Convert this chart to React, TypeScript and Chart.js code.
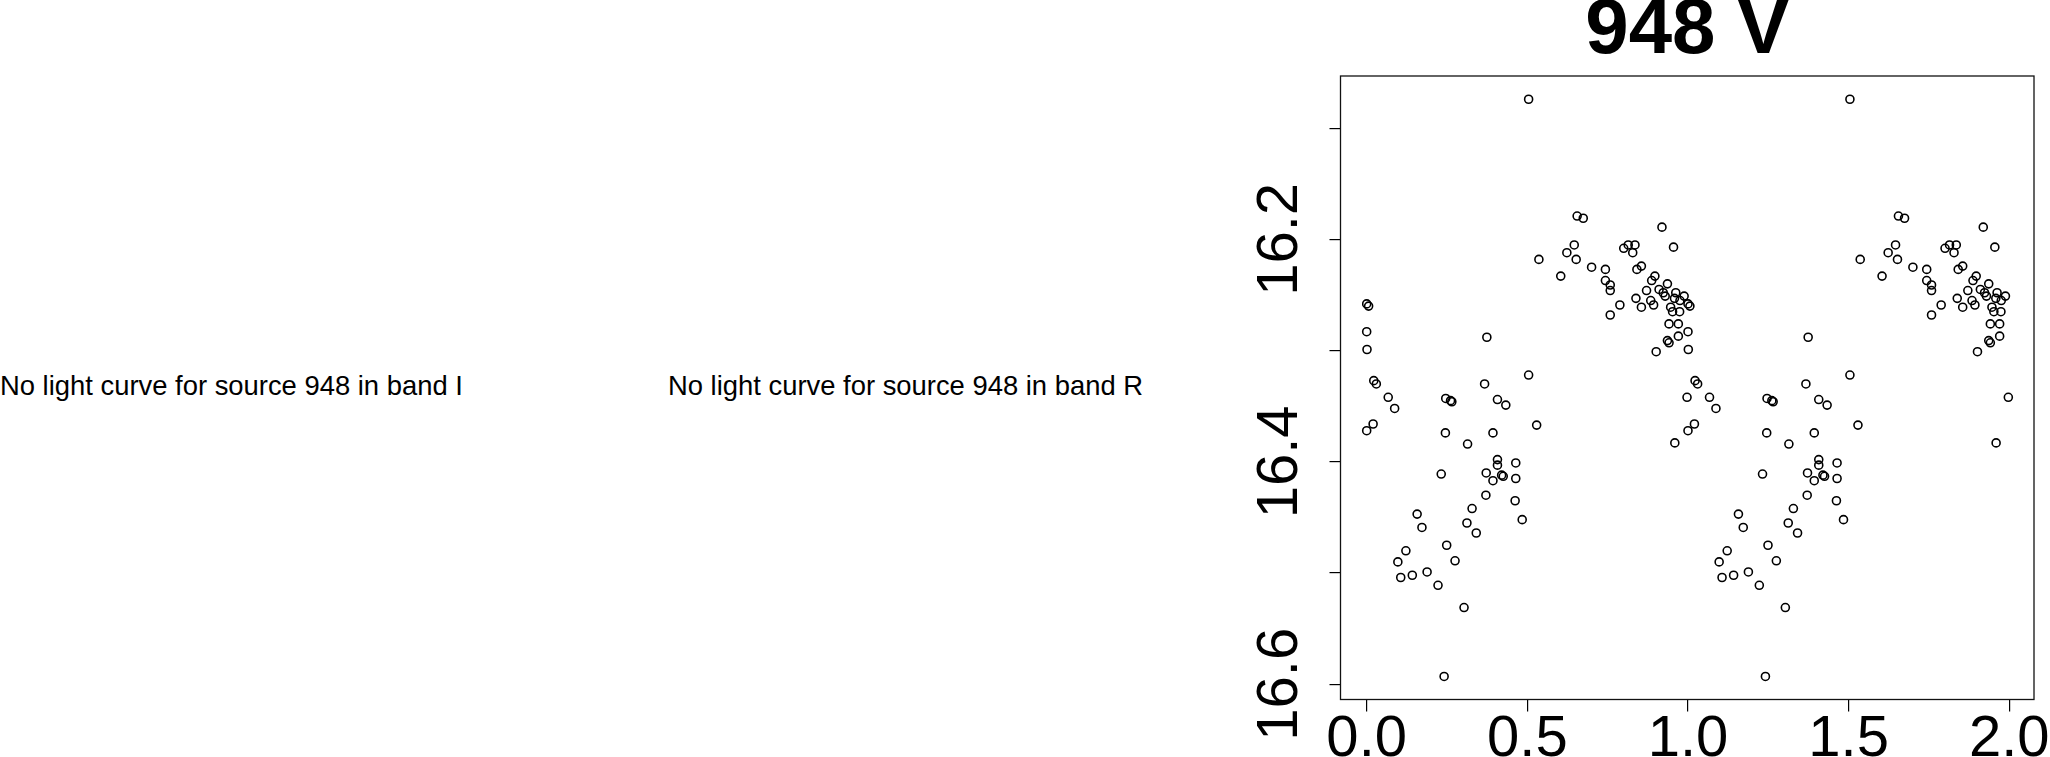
import React, { useEffect, useRef } from 'react';
import { Chart, registerables } from 'chart.js';

Chart.register(...registerables);

// ---- data ----
const chartTitle = '948 V';
const sourceId = '948';
const missingBands = ['I', 'R'];

// phase (0..1) and V magnitude
const phases = [
  0.000, 0.006, 0.000, 0.001, 0.022, 0.030, 0.067, 0.087, 0.000, 0.020,
  0.246, 0.261, 0.265, 0.245, 0.314, 0.232, 0.157, 0.172, 0.122, 0.097,
  0.106, 0.142, 0.188, 0.222, 0.249, 0.275, 0.303, 0.241, 0.312, 0.328,
  0.341, 0.371, 0.372, 0.393, 0.393, 0.374, 0.367, 0.407, 0.433, 0.407,
  0.407, 0.420, 0.425, 0.464, 0.464, 0.462, 0.484, 0.504, 0.504, 0.529,
  0.536, 0.604, 0.623, 0.646, 0.652, 0.655, 0.674, 0.700, 0.743, 0.743,
  0.758, 0.758, 0.758, 0.788, 0.800, 0.814, 0.828, 0.835, 0.841, 0.855,
  0.838, 0.855, 0.871, 0.884, 0.887, 0.897, 0.893, 0.901, 0.910, 0.919,
  0.923, 0.929, 0.936, 0.941, 0.936, 0.941, 0.946, 0.952, 0.955, 0.958,
  0.962, 0.970, 0.970, 0.975, 0.974, 0.959, 0.988, 0.997,
];
const mags = [
  16.258, 16.260, 16.283, 16.299, 16.327, 16.330, 16.342, 16.352, 16.372, 16.366,
  16.343, 16.345, 16.346, 16.374, 16.384, 16.411, 16.447, 16.459, 16.480, 16.490,
  16.504, 16.502, 16.499, 16.511, 16.475, 16.489, 16.531, 16.593, 16.455, 16.442,
  16.464, 16.430, 16.410, 16.417, 16.374, 16.288, 16.330, 16.344, 16.349, 16.398,
  16.403, 16.412, 16.413, 16.401, 16.415, 16.435, 16.452, 16.074, 16.322, 16.367,
  16.218, 16.233, 16.212, 16.205, 16.218, 16.179, 16.181, 16.225, 16.227, 16.237,
  16.241, 16.246, 16.268, 16.259, 16.208, 16.205, 16.212, 16.205, 16.227, 16.224,
  16.253, 16.261, 16.246, 16.255, 16.237, 16.233, 16.259, 16.301, 16.245, 16.189,
  16.248, 16.251, 16.240, 16.276, 16.291, 16.293, 16.261, 16.265, 16.207, 16.253,
  16.248, 16.276, 16.287, 16.255, 16.265, 16.383, 16.251, 16.342,
];

const xTickValues = [0, 0.5, 1, 1.5, 2];
const xTickLabels = ['0.0', '0.5', '1.0', '1.5', '2.0'];
const yTickValues = [16.1, 16.2, 16.3, 16.4, 16.5, 16.6];
const yTickLabels = ['', '16.2', '', '16.4', '', '16.6'];
const xLimits = [-0.0815, 2.0769];
const yLimits = [16.0531, 16.6137];

const FONT = "'Liberation Sans', Arial, Helvetica, sans-serif";

const boxPlugin = {
  id: 'rbox',
  afterDatasetsDraw(chart: any) {
    const { ctx, chartArea: a } = chart;
    ctx.save();
    ctx.strokeStyle = '#111';
    ctx.lineWidth = 1.3;
    ctx.strokeRect(a.left, a.top, a.right - a.left, a.bottom - a.top);
    ctx.restore();
  },
};

function LightCurve() {
  const ref = useRef<HTMLCanvasElement | null>(null);
  useEffect(() => {
    if (!ref.current) return;
    const pts = phases.map((p, i) => ({ x: p, y: mags[i] }));
    const folded = pts.concat(phases.map((p, i) => ({ x: p + 1, y: mags[i] })));
    const chart = new Chart(ref.current, {
      type: 'scatter',
      data: {
        datasets: [
          {
            label: 'V',
            data: folded,
            pointStyle: 'circle',
            pointRadius: 4.0,
            pointHoverRadius: 4.0,
            borderWidth: 1.6,
            borderColor: '#000',
            backgroundColor: 'rgba(0,0,0,0)',
            showLine: false,
          },
        ],
      },
      options: {
        animation: false,
        responsive: false,
        devicePixelRatio: 1,
        events: [],
        layout: { padding: { left: 1240, right: 16, top: 0, bottom: 0 } },
        plugins: {
          legend: { display: false },
          tooltip: { enabled: false },
          title: {
            display: true,
            text: chartTitle,
            fullSize: false,
            color: '#000',
            font: { family: FONT, size: 78, weight: 'bold', lineHeight: 0.8 },
            padding: { top: 0, bottom: 13.6 },
          },
        },
        scales: {
          x: {
            type: 'linear',
            position: 'bottom',
            min: xLimits[0],
            max: xLimits[1],
            afterBuildTicks: (s: any) => {
              s.ticks = xTickValues.map((v) => ({ value: v }));
            },
            afterFit: (s: any) => {
              s.height = 57.5;
            },
            border: { display: false },
            grid: {
              drawOnChartArea: false,
              drawTicks: true,
              tickLength: 12,
              color: '#000',
              lineWidth: 1.2,
            },
            ticks: {
              autoSkip: false,
              minRotation: 0,
              maxRotation: 0,
              padding: -6,
              color: '#000',
              font: { family: FONT, size: 58 },
              callback: (v: any) => {
                const i = xTickValues.findIndex((t) => Math.abs(t - Number(v)) < 1e-6);
                return i >= 0 ? xTickLabels[i] : '';
              },
            },
          },
          y: {
            type: 'linear',
            position: 'left',
            reverse: true,
            min: yLimits[0],
            max: yLimits[1],
            afterBuildTicks: (s: any) => {
              s.ticks = yTickValues.map((v) => ({ value: v }));
            },
            afterFit: (s: any) => {
              s.width = 100.5;
            },
            border: { display: false },
            grid: {
              drawOnChartArea: false,
              drawTicks: true,
              tickLength: 11,
              color: '#000',
              lineWidth: 1.2,
            },
            ticks: {
              autoSkip: false,
              minRotation: 90,
              maxRotation: 90,
              crossAlign: 'center',
              padding: -8.4,
              color: '#000',
              font: { family: FONT, size: 58 },
              callback: (v: any) => {
                const i = yTickValues.findIndex((t) => Math.abs(t - Number(v)) < 1e-6);
                return i >= 0 ? yTickLabels[i] : '';
              },
            },
          },
        },
      },
      plugins: [boxPlugin],
    });
    return () => chart.destroy();
  }, []);
  return (
    <canvas
      ref={ref}
      width={2050}
      height={757}
      style={{ position: 'absolute', left: 0, top: 0, width: 2050, height: 757 }}
    />
  );
}

const msgStyle: React.CSSProperties = {
  position: 'absolute',
  top: 371.8,
  fontFamily: FONT,
  fontSize: 27.4,
  lineHeight: '27.4px',
  color: '#000',
  whiteSpace: 'nowrap',
};

export default function App() {
  useEffect(() => {
    document.body.style.overflow = 'hidden';
  }, []);
  return (
    <div style={{ position: 'absolute', left: 0, top: 0, width: 2050, height: 757, background: '#fff', overflow: 'hidden' }}>
      <div style={{ ...msgStyle, left: 0 }}>
        No light curve for source {sourceId} in band {missingBands[0]}
      </div>
      <div style={{ ...msgStyle, left: 668 }}>
        No light curve for source {sourceId} in band {missingBands[1]}
      </div>
      <LightCurve />
    </div>
  );
}
